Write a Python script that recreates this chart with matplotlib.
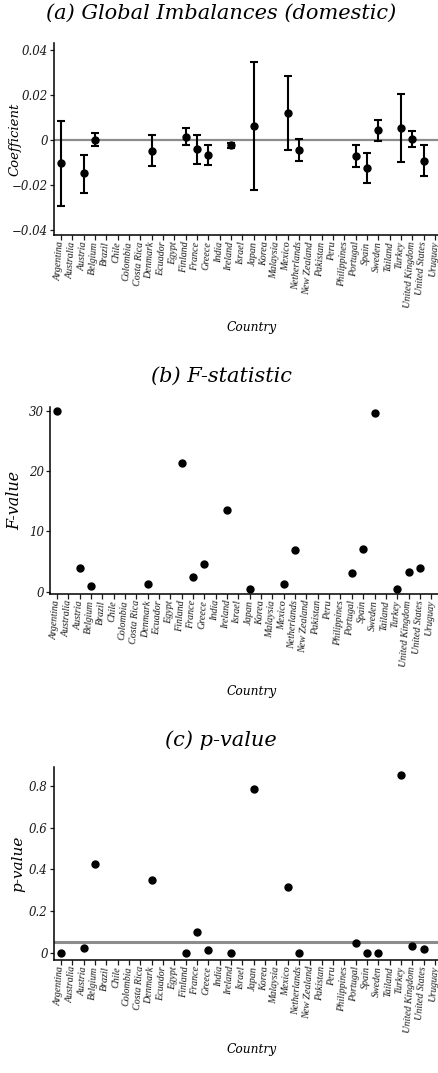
import numpy as np
import matplotlib
matplotlib.use("Agg")
import matplotlib.pyplot as plt

nan = np.nan

countries = ['Argentina', 'Australia', 'Austria', 'Belgium', 'Brazil', 'Chile',
             'Colombia', 'Costa Rica', 'Denmark', 'Ecuador', 'Egypt', 'Finland',
             'France', 'Greece', 'India', 'Ireland', 'Israel', 'Japan', 'Korea',
             'Malaysia', 'Mexico', 'Netherlands', 'New Zealand', 'Pakistan', 'Peru',
             'Philippines', 'Portugal', 'Spain', 'Sweden', 'Tailand', 'Turkey',
             'United Kingdom', 'United States', 'Uruguay']

# panel (a): coefficient with confidence interval
coef = [-0.0104, nan, -0.0149, 0.0, nan, nan, nan, nan, -0.0049, nan, nan, 0.0012,
        -0.0042, -0.0067, nan, -0.0024, nan, 0.0061, nan, nan, 0.0119, -0.0046,
        nan, nan, nan, nan, -0.0073, -0.0125, 0.0042, nan, 0.0052, 0.0006, -0.0094, nan]
ci_low = [-0.0293, nan, -0.0237, -0.0027, nan, nan, nan, nan, -0.0118, nan, nan, -0.0021,
          -0.0106, -0.0112, nan, -0.0036, nan, -0.0224, nan, nan, -0.0043, -0.0096,
          nan, nan, nan, nan, -0.0122, -0.0191, -0.0004, nan, -0.0099, -0.0033, -0.0163, nan]
ci_high = [0.0084, nan, -0.0066, 0.0031, nan, nan, nan, nan, 0.0021, nan, nan, 0.0051,
           0.0021, -0.0025, nan, -0.0013, nan, 0.0348, nan, nan, 0.0284, 0.0003,
           nan, nan, nan, nan, -0.0025, -0.0060, 0.0087, nan, 0.0203, 0.0039, -0.0024, nan]

# panel (b): F-statistic
f_value = [30.0, nan, 4.0, 1.0, nan, nan, nan, nan, 1.2, nan, nan, 21.4,
           2.35, 4.5, nan, 13.6, nan, 0.45, nan, nan, 1.3, 6.85,
           nan, nan, nan, nan, 3.1, 7.06, 29.6, nan, 0.35, 3.3, 4.0, nan]

# panel (c): p-value
p_value = [0.0, nan, 0.021, 0.426, nan, nan, nan, nan, 0.348, nan, nan, 0.0,
           0.099, 0.013, nan, 0.0, nan, 0.787, nan, nan, 0.313, 0.0,
           nan, nan, nan, nan, 0.045, 0.0, 0.0, nan, 0.854, 0.034, 0.016, nan]

plt.rcParams['font.family'] = 'DejaVu Serif'
plt.rcParams['font.style'] = 'italic'

W, H = 438, 1073
fig = plt.figure(figsize=(W / 100, H / 100), dpi=100)


def px_axes(left, right, top, bottom):
    return fig.add_axes([left / W, 1 - bottom / H, (right - left) / W, (bottom - top) / H])


def style(ax, ylabel, ysize, ylab_x):
    for s in ['top', 'right']:
        ax.spines[s].set_visible(False)
    for s in ['left', 'bottom']:
        ax.spines[s].set_linewidth(1.1)
    ax.tick_params(axis='y', length=3, width=0.9, labelsize=8.5, pad=1.5, colors='#1a1a1a')
    ax.tick_params(axis='x', length=3.5, width=0.9, pad=1, colors='#1a1a1a')
    ax.set_xlim(-0.62, 33.6)
    ax.set_xticks(np.arange(len(countries)))
    ax.set_xticklabels(countries, rotation=86, ha='right', va='center',
                       rotation_mode='anchor', family='Liberation Serif',
                       style='italic', fontsize=7.2)
    for lab in ax.get_yticklabels():
        lab.set_fontstyle('italic')
    ax.set_ylabel(ylabel, fontsize=ysize, style='italic')
    ax.yaxis.set_label_coords(ylab_x, 0.5)


x = np.arange(len(countries))
coef = np.array(coef)
lo = np.array(ci_low)
hi = np.array(ci_high)

# (a)
ax1 = px_axes(54, 441.7, 43.3, 235.3)
ax1.axhline(0, color='#8c8c8c', lw=1.6, zorder=1)
ax1.errorbar(x, coef, yerr=[coef - lo, hi - coef], fmt='o', color='black',
             ms=5, elinewidth=1.5, capsize=2.6, capthick=1.5, zorder=3)
ax1.set_ylim(-0.0425, 0.043)
ax1.set_yticks([-0.04, -0.02, 0, 0.02, 0.04])
ax1.set_yticklabels(['\u22120.04', '\u22120.02', '0', '0.02', '0.04'])
style(ax1, 'Coefficient', 9.5, -0.083)

# (b)
ax2 = px_axes(50, 438, 406.7, 594)
ax2.plot(x, f_value, 'o', color='black', ms=5, zorder=3)
ax2.set_ylim(-0.4, 30.7)
ax2.set_yticks([0, 10, 20, 30])
ax2.set_yticklabels(['0', '10', '20', '30'])
style(ax2, 'F-value', 11.5, -0.07)

# (c)
ax3 = px_axes(54, 441.7, 767.3, 960)
ax3.axhline(0.05, color='#8c8c8c', lw=2.2, zorder=1)
ax3.plot(x, p_value, 'o', color='black', ms=5, zorder=3)
ax3.set_ylim(-0.035, 0.889)
ax3.set_yticks([0, 0.2, 0.4, 0.6, 0.8])
ax3.set_yticklabels(['0', '0.2', '0.4', '0.6', '0.8'])
style(ax3, 'p-value', 11, -0.075)

# titles and x labels
for ty, t in [(13, '(a) Global Imbalances (domestic)'), (376.7, '(b) F-statistic'), (740, '(c) p-value')]:
    fig.text(221 / W, 1 - ty / H, t, ha='center', va='center', fontsize=15, style='italic')
for cy in [327, 691.7, 1049]:
    fig.text(252 / W, 1 - cy / H, 'Country', ha='center', va='center', fontsize=8.8, style='italic')

fig.savefig('out.png', dpi=100)
